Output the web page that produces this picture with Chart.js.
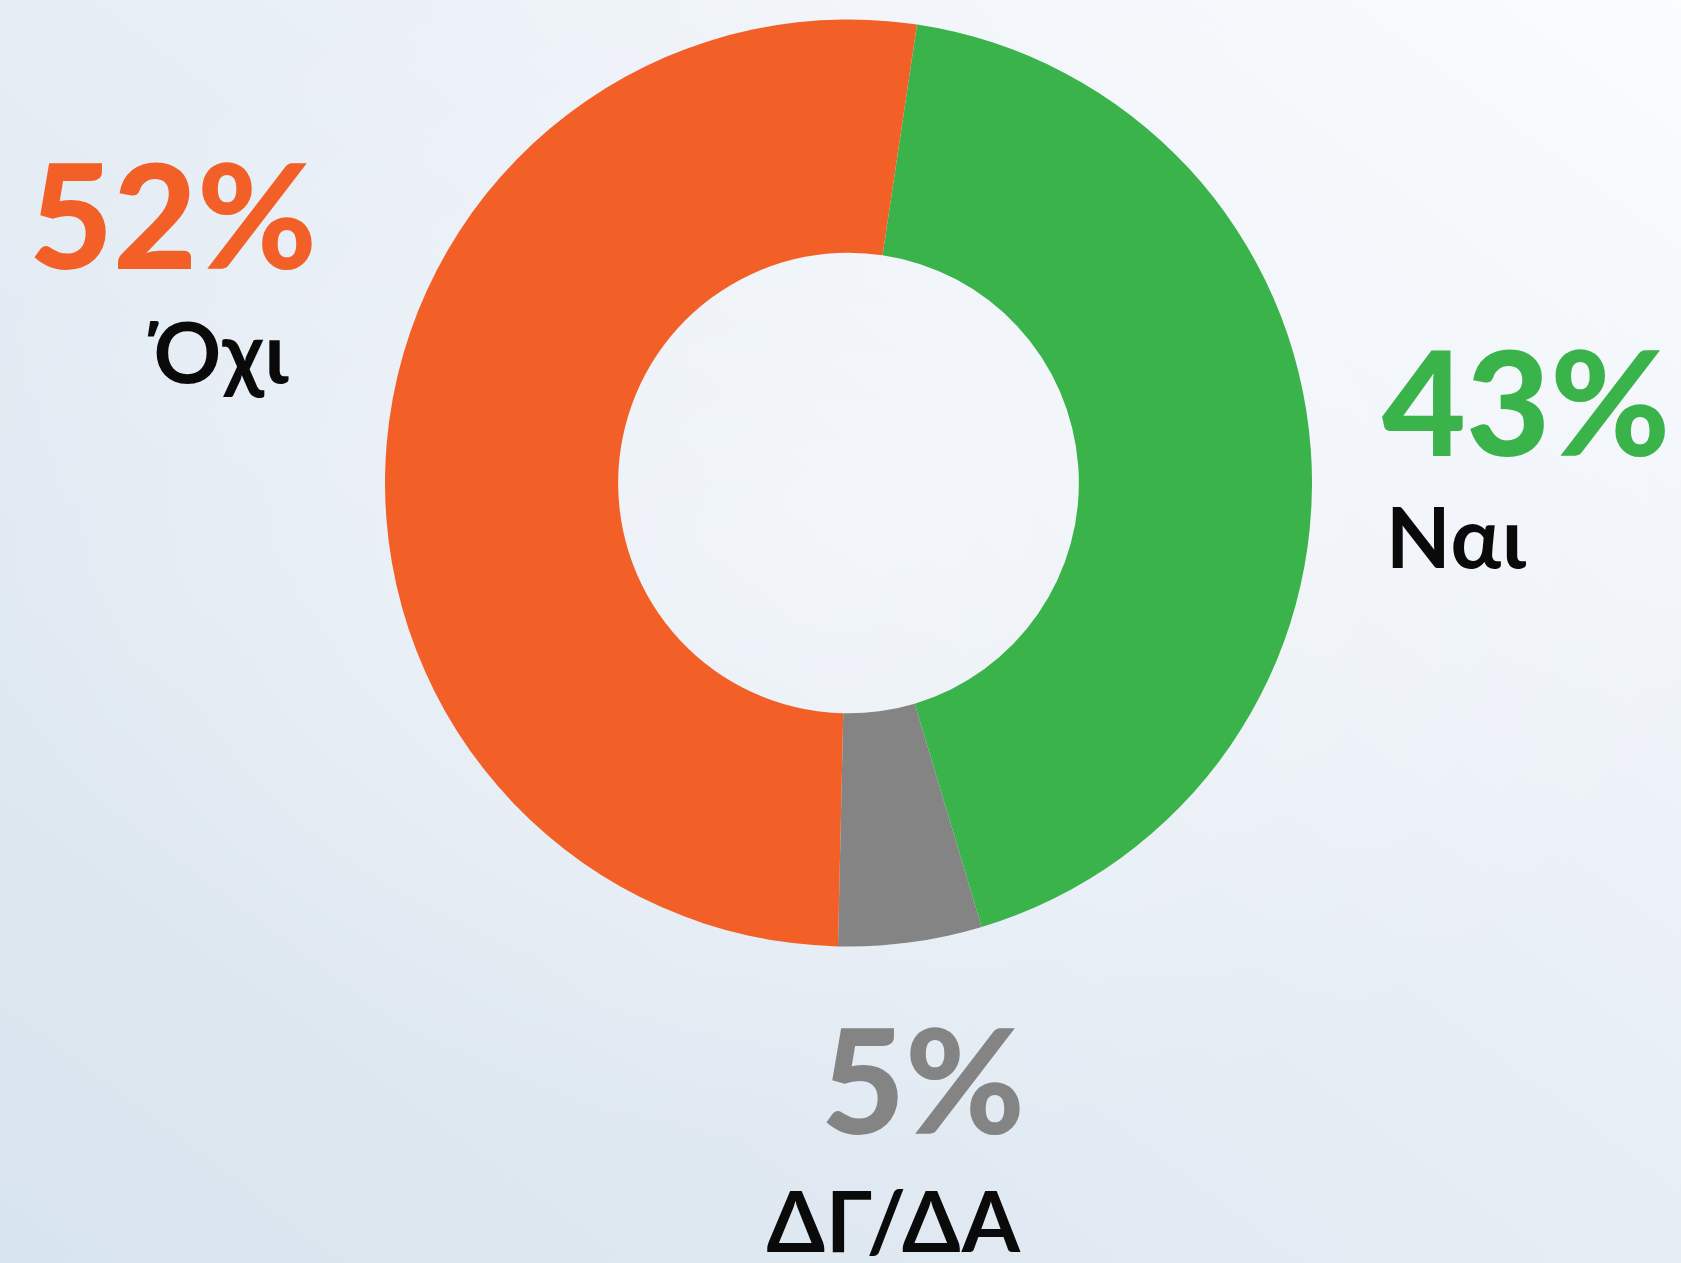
<!DOCTYPE html>
<html>
<head>
<meta charset="utf-8">
<script src="https://cdn.jsdelivr.net/npm/chart.js@4"></script>
<style>
  html, body {
    margin: 0;
    padding: 0;
  }
  body {
    width: 1681px;
    height: 1263px;
    position: relative;
    overflow: hidden;
    font-family: 'Lato', 'Open Sans', sans-serif;
    background:
      radial-gradient(ellipse 55% 50% at 50% 42%, rgba(255,255,255,0.45), rgba(255,255,255,0) 100%),
      linear-gradient(to bottom left, #fbfcfe 0%, #e6edf5 50%, #d8e4ee 100%);
  }
  #chart-box {
    position: absolute;
    left: 385px;
    top: 19px;
    width: 927px;
    height: 928px;
  }
  .pct {
    position: absolute;
    font-size: 145px;
    font-weight: 900;
    line-height: 1;
    white-space: nowrap;
  }
  .cat {
    position: absolute;
    font-size: 84px;
    font-weight: 700;
    line-height: 1;
    letter-spacing: 1px;
    color: #0a0a0a;
    white-space: nowrap;
  }
</style>
</head>
<body>
<div id="chart-box"><canvas id="donut"></canvas></div>

<div class="pct" id="pct-2" style="right:1364px; top:141px;"></div>
<div class="cat" id="cat-2" style="right:1392px; top:309px;"></div>

<div class="pct" id="pct-0" style="left:1382px; top:328px;"></div>
<div class="cat" id="cat-0" style="left:1386px; top:494px;"></div>

<div class="pct" id="pct-1" style="right:656px; top:1006px;"></div>
<div class="cat" id="cat-1" style="right:660px; top:1178px;"></div>

<script>
// values
const categories = ['Ναι', 'ΔΓ/ΔΑ', 'Όχι']
const shares = [43, 5, 52]

const slice_colors = ['#3bb34b', '#848484', '#f26028']

function fill_labels() {
  categories.forEach((name, i) => {
    const pct = document.getElementById('pct-' + i)
    pct.textContent = shares[i] + '%'
    pct.style.color = slice_colors[i]
    document.getElementById('cat-' + i).textContent = name
  })
}

function create_donut(elem_id) {
  const ctx = document.getElementById(elem_id)
  return new Chart(ctx, {
    type: 'doughnut',
    data: {
      labels: categories,
      datasets: [{
        data: shares,
        backgroundColor: slice_colors,
        borderWidth: 0
      }]
    },
    options: {
      responsive: true,
      maintainAspectRatio: false,
      animation: false,
      cutout: '49.7%',
      rotation: 8.5,
      layout: { padding: 0 },
      plugins: {
        legend: { display: false },
        tooltip: { enabled: false }
      }
    }
  })
}

fill_labels()
create_donut('donut')
</script>
</body>
</html>
